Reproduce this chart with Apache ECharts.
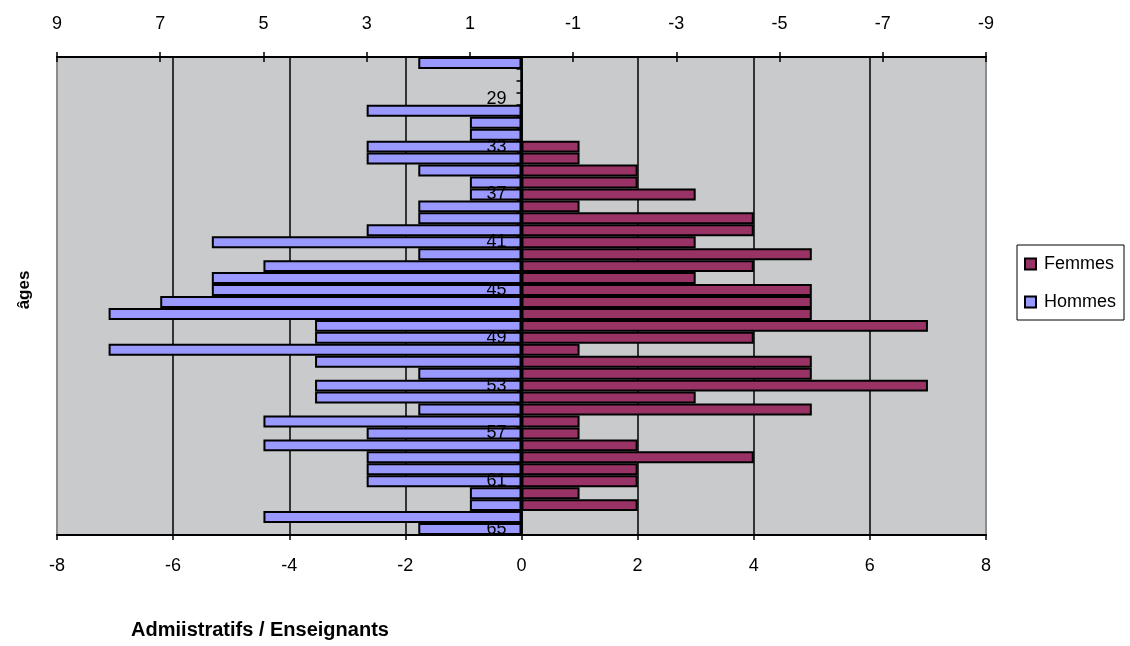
<!DOCTYPE html>
<html lang="fr">
<head>
    <meta charset="UTF-8">
    <title>Pyramide des âges</title>
    <script src="https://cdn.jsdelivr.net/npm/echarts@6/dist/echarts.min.js"></script>
    <style>
        html, body { margin: 0; padding: 0; background: #ffffff; }
        #container { width: 1130px; height: 646px; }
    </style>
</head>
<body>
<div id="container"></div>
<script>
    // ages, de bas en haut (65 en bas, 26 en haut)
    let ages = ['65','64','63','62','61','60','59','58','57','56','55','54','53','52','51','50','49','48','47','46',
                '45','44','43','42','41','40','39','38','37','36','35','34','33','32','31','30','29','28','27','26'];
    // Hommes : axe du haut (inversé, 9 à -9)
    let hommes = [2,5,1,1,3,3,3,5,3,5,2,4,4,2,4,8,4,4,8,7,
                  6,6,5,2,6,3,2,2,1,1,2,3,3,1,1,3,0,0,0,2];
    // Femmes : axe du bas (-8 à 8)
    let femmes = [0,0,2,1,2,2,4,2,1,1,5,3,7,5,5,1,4,7,5,5,
                  5,3,4,5,3,4,4,1,3,2,2,1,1,0,0,0,0,0,0,0];
    let seriesNames = ['Femmes', 'Hommes'];

    let font = "'Liberation Sans', Arial, sans-serif";
    let chart = echarts.init(document.getElementById('container'));

    let gridLeft = 57, gridRight = 144;
    let plotWidth = 1130 - gridLeft - gridRight;

    let option = {
        backgroundColor: '#ffffff',
        animation: false,
        textStyle: {fontFamily: font},
        grid: {
            left: gridLeft, right: gridRight, top: 57, bottom: 111,
            show: true,
            backgroundColor: '#c9cacc',
            borderColor: '#8c8c8c',
            borderWidth: 2
        },
        legend: {
            data: seriesNames,
            orient: 'vertical',
            left: 1017, top: 245,
            padding: [10, 8, 9, 7],
            itemGap: 20,
            itemWidth: 11, itemHeight: 11,
            borderColor: '#000', borderWidth: 1,
            icon: 'rect',
            textStyle: {fontSize: 18, color: '#000', fontFamily: font, padding: [0, 0, 0, 3]}
        },
        xAxis: [
            {   // bas : Femmes
                type: 'value', position: 'bottom',
                min: -8, max: 8, interval: 2,
                axisLine: {show: true, onZero: false, lineStyle: {color: '#000', width: 2}},
                axisTick: {show: true, length: 5, lineStyle: {color: '#000', width: 1.5}},
                axisLabel: {fontSize: 18, color: '#000', margin: 22, fontFamily: font},
                splitLine: {show: true, showMinLine: false, showMaxLine: false, lineStyle: {color: '#000', width: 1.5}}
            },
            {   // haut : Hommes
                type: 'value', position: 'top', inverse: true,
                min: -9, max: 9, interval: 2,
                axisLine: {show: true, onZero: false, lineStyle: {color: '#000', width: 2}},
                axisTick: {show: true, length: 5, lineStyle: {color: '#000', width: 1.5}},
                axisLabel: {fontSize: 18, color: '#000', margin: 24, fontFamily: font},
                splitLine: {show: false}
            },
            {   // graduations intérieures de l'axe du haut
                type: 'value', position: 'top', inverse: true,
                min: -9, max: 9, interval: 2,
                axisLine: {show: false},
                axisTick: {show: true, inside: true, length: 5, lineStyle: {color: '#000', width: 1.5}},
                axisLabel: {show: false},
                splitLine: {show: false}
            }
        ],
        yAxis: {
            type: 'category',
            data: ages,
            z: 10,
            position: 'left',
            offset: -plotWidth / 2,   // axe des âges placé sur le zéro
            axisLine: {show: true, onZero: false, lineStyle: {color: '#000', width: 1.5}},
            axisTick: {show: true, interval: 0, length: 5, lineStyle: {color: '#000', width: 1.5}},
            axisLabel: {interval: 3, fontSize: 18, color: '#000', margin: 15, fontFamily: font},
            splitLine: {show: false}
        },
        series: [
            {
                name: 'Femmes', type: 'bar', xAxisIndex: 0, yAxisIndex: 0,
                data: femmes,
                barGap: '-100%', barCategoryGap: '0%',
                itemStyle: {color: '#993366', borderColor: '#000', borderWidth: 2}
            },
            {
                name: 'Hommes', type: 'bar', xAxisIndex: 1, yAxisIndex: 0,
                data: hommes,
                barGap: '-100%', barCategoryGap: '0%',
                itemStyle: {color: '#9999ff', borderColor: '#000', borderWidth: 2}
            }
        ],
        graphic: [
            {
                type: 'text', x: 24, y: 290, rotation: Math.PI / 2,
                style: {text: 'âges', font: 'bold 17px ' + font, fill: '#000', align: 'center', verticalAlign: 'middle'}
            },
            {
                type: 'text', x: 260, y: 630,
                style: {text: 'Admiistratifs / Enseignants', font: 'bold 20px ' + font, fill: '#000', align: 'center', verticalAlign: 'middle'}
            }
        ]
    };
    chart.setOption(option);
</script>
</body>
</html>
